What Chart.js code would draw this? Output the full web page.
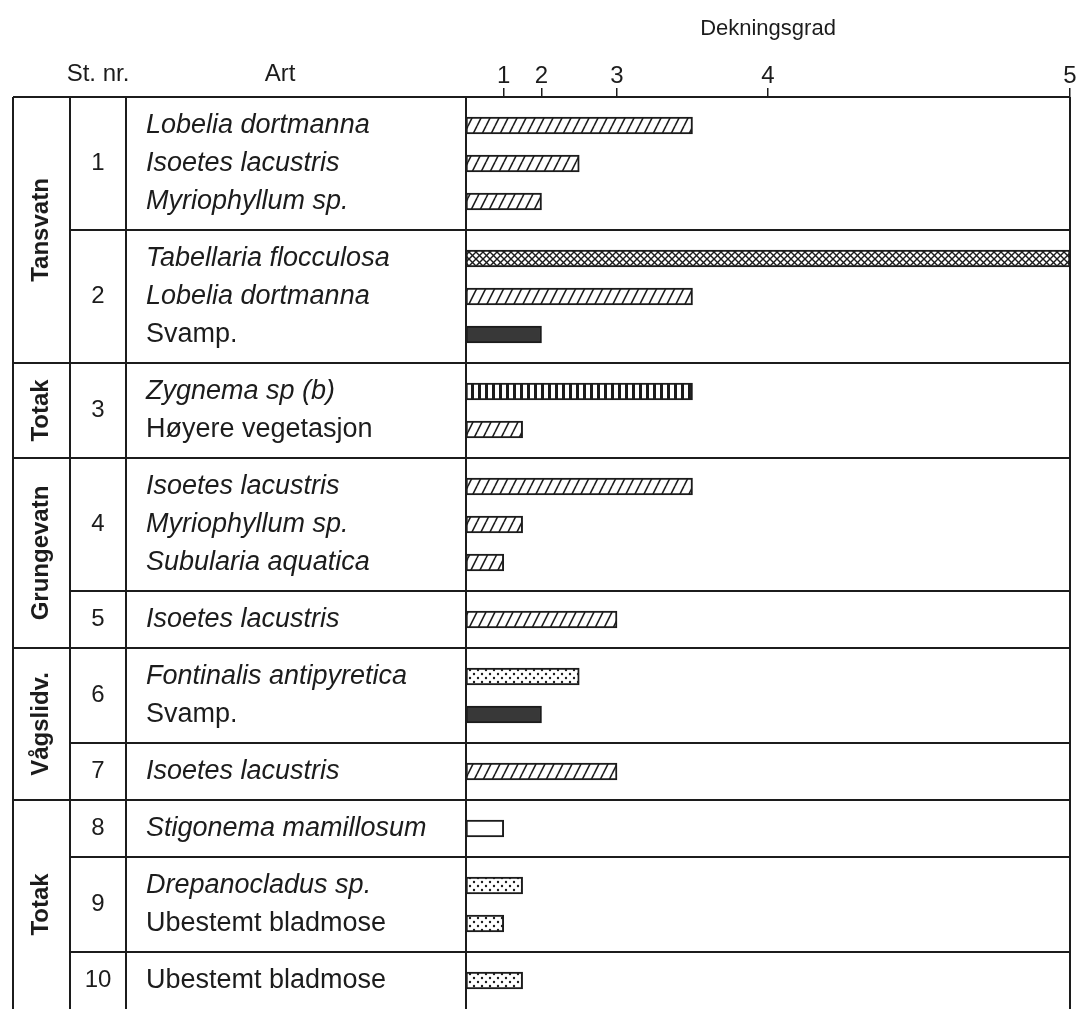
<!DOCTYPE html>
<html>
<head>
<meta charset="utf-8">
<script src="https://cdn.jsdelivr.net/npm/chart.js@4.4.0/dist/chart.umd.min.js"></script>
<style>
  html, body { margin: 0; padding: 0; background: #fff; }
  canvas { display: block; }
</style>
</head>
<body>
<canvas id="canvas" width="1083" height="1009"></canvas>
<script>
// data
var lakeNames = ['Tansvatn', 'Totak', 'Grungevatn', 'Vågslidv.', 'Totak'];
var lakeStations = [[1, 2], [3], [4, 5], [6, 7], [8, 9, 10]];
var stations = [1, 2, 3, 4, 5, 6, 7, 8, 9, 10];
var species = ['Lobelia dortmanna', 'Isoetes lacustris', 'Myriophyllum sp.',
    'Tabellaria flocculosa', 'Lobelia dortmanna', 'Svamp.',
    'Zygnema sp (b)', 'Høyere vegetasjon',
    'Isoetes lacustris', 'Myriophyllum sp.', 'Subularia aquatica',
    'Isoetes lacustris',
    'Fontinalis antipyretica', 'Svamp.',
    'Isoetes lacustris',
    'Stigonema mamillosum',
    'Drepanocladus sp.', 'Ubestemt bladmose',
    'Ubestemt bladmose'];
var stationOf = [1, 1, 1, 2, 2, 2, 3, 3, 4, 4, 4, 5, 6, 6, 7, 8, 9, 9, 10];
var cover = [3.5, 2.5, 2, 5, 3.5, 2, 3.5, 1.5, 3.5, 1.5, 1, 3, 2.5, 2, 3, 1, 1.5, 1, 1.5];
var tickLabels = ['1', '2', '3', '4', '5'];

var ink = '#1c1c1c';
var family = '"Liberation Sans", Arial, Helvetica, sans-serif';
var plainNames = ['Svamp.', 'Høyere vegetasjon', 'Ubestemt bladmose'];

// axis is linear up to 1, then every step of Dekningsgrad doubles the length
function toAxis(v) {
    if (v <= 1) return v;
    var lo = Math.floor(v), a = Math.pow(2, lo - 1);
    return a + (v - lo) * a;
}
var tickValues = tickLabels.map(function (t) { return toAxis(Number(t)); });

// rows: each station gets 2 units per species plus one unit of padding
var rowPos = [], stationStart = {}, stationEnd = {};
var cursor = 0;
stations.forEach(function (st) {
    var n = 0;
    stationStart[st] = cursor;
    stationOf.forEach(function (s, i) {
        if (s === st) { rowPos[i] = cursor + 1.5 + 2 * n; n++; }
    });
    cursor += 2 * n + 1;
    stationEnd[st] = cursor;
});
var totalUnits = cursor;

var ctx = document.getElementById('canvas').getContext('2d');

function makePattern(w, h, draw) {
    var c = document.createElement('canvas');
    c.width = w; c.height = h;
    var g = c.getContext('2d');
    g.fillStyle = '#fff';
    g.fillRect(0, 0, w, h);
    g.strokeStyle = ink;
    g.fillStyle = ink;
    draw(g, w, h);
    return ctx.createPattern(c, 'repeat');
}

var fills = {
    hatch: makePattern(9, 18, function (g, w, h) {
        g.lineWidth = 1.6;
        [-w, 0, w].forEach(function (dx) {
            g.beginPath(); g.moveTo(dx, h); g.lineTo(dx + w, 0); g.stroke();
        });
    }),
    cross: makePattern(7, 7, function (g, w, h) {
        g.lineWidth = 1.4;
        [-w, 0, w].forEach(function (dx) {
            g.beginPath(); g.moveTo(dx, h); g.lineTo(dx + w, 0); g.stroke();
            g.beginPath(); g.moveTo(dx, 0); g.lineTo(dx + w, h); g.stroke();
        });
    }),
    stripes: makePattern(7, 7, function (g) { g.fillRect(2, 0, 3, 7); }),
    dots: makePattern(8, 8, function (g) {
        g.beginPath(); g.arc(2, 2, 1.2, 0, Math.PI * 2); g.fill();
        g.beginPath(); g.arc(6, 6, 1.2, 0, Math.PI * 2); g.fill();
    }),
    dark: '#383838',
    blank: '#ffffff'
};
var fillFor = {
    'Tabellaria flocculosa': 'cross',
    'Zygnema sp (b)': 'stripes',
    'Svamp.': 'dark',
    'Fontinalis antipyretica': 'dots',
    'Drepanocladus sp.': 'dots',
    'Ubestemt bladmose': 'dots',
    'Stigonema mamillosum': 'blank'
};

function line(c, x1, y1, x2, y2) {
    c.beginPath(); c.moveTo(x1, y1); c.lineTo(x2, y2); c.stroke();
}

var colLeft = 13, colStation = 70, colArt = 126;

var tablePlugin = {
    id: 'table',
    beforeDatasetsDraw: function (chart) {
        var c = chart.ctx, y = chart.scales.y, area = chart.chartArea;
        c.save();
        c.strokeStyle = ink;
        c.lineWidth = 2;
        line(c, colLeft, area.top, area.right, area.top);
        [colLeft, colStation, colArt, area.left, area.right].forEach(function (x) {
            line(c, x, area.top, x, chart.height + 2);
        });
        var lakeEnds = lakeStations.map(function (g) { return g[g.length - 1]; });
        stations.forEach(function (st) {
            if (stationEnd[st] >= totalUnits) return;
            var py = y.getPixelForValue(stationEnd[st]);
            var x0 = lakeEnds.indexOf(st) >= 0 ? colLeft : colStation;
            line(c, x0, py, area.right, py);
        });
        c.restore();
    },
    afterDraw: function (chart) {
        var c = chart.ctx, y = chart.scales.y;
        c.save();
        c.fillStyle = ink;
        c.textBaseline = 'middle';

        // header
        c.textAlign = 'center';
        c.font = '24px ' + family;
        c.fillText('St. nr.', 98, 74);
        c.fillText('Art', 280, 74);

        // species names
        c.textAlign = 'left';
        species.forEach(function (name, i) {
            c.font = (plainNames.indexOf(name) >= 0 ? '' : 'italic ') + '27px ' + family;
            c.fillText(name, 146, y.getPixelForValue(rowPos[i]));
        });

        // station numbers
        c.textAlign = 'center';
        c.font = '24px ' + family;
        stations.forEach(function (st) {
            var mid = (stationStart[st] + stationEnd[st]) / 2;
            c.fillText(String(st), 98, y.getPixelForValue(mid));
        });

        // lake names, rotated
        c.font = 'bold 24px ' + family;
        lakeStations.forEach(function (g, i) {
            var top = y.getPixelForValue(stationStart[g[0]]);
            var bot = Math.min(y.getPixelForValue(stationEnd[g[g.length - 1]]), chart.height);
            c.save();
            c.translate((colLeft + colStation) / 2, (top + bot) / 2);
            c.rotate(-Math.PI / 2);
            c.fillText(lakeNames[i], 0, 0);
            c.restore();
        });
        c.restore();
    }
};

new Chart(ctx, {
    type: 'bar',
    data: {
        datasets: [{
            data: species.map(function (n, i) { return { x: toAxis(cover[i]), y: rowPos[i] }; }),
            backgroundColor: species.map(function (n) { return fills[fillFor[n] || 'hatch']; }),
            borderColor: ink,
            borderWidth: 2,
            borderSkipped: false,
            barThickness: 17
        }]
    },
    options: {
        indexAxis: 'y',
        responsive: false,
        animation: false,
        devicePixelRatio: 1,
        layout: { padding: { left: 466, right: 13, top: 0, bottom: 0 } },
        plugins: {
            legend: { display: false },
            tooltip: { enabled: false }
        },
        scales: {
            x: {
                type: 'linear',
                position: 'top',
                min: 0,
                max: 16,
                afterBuildTicks: function (scale) {
                    scale.ticks = tickValues.map(function (v) { return { value: v }; });
                },
                afterFit: function (scale) { scale.height = 97; },
                ticks: {
                    autoSkip: false,
                    maxRotation: 0,
                    padding: -3,
                    color: ink,
                    font: { family: family, size: 24 },
                    callback: function (value) { return tickLabels[tickValues.indexOf(value)]; }
                },
                grid: { drawOnChartArea: false, tickLength: 9, color: ink, lineWidth: 1.5 },
                border: { display: true, color: ink, width: 2 },
                title: {
                    display: true,
                    text: 'Dekningsgrad',
                    color: ink,
                    font: { family: family, size: 22 },
                    padding: { top: 16, bottom: 0 }
                }
            },
            y: {
                type: 'linear',
                reverse: true,
                offset: false,
                min: 0,
                max: totalUnits,
                display: false
            }
        }
    },
    plugins: [tablePlugin]
});
</script>
</body>
</html>
